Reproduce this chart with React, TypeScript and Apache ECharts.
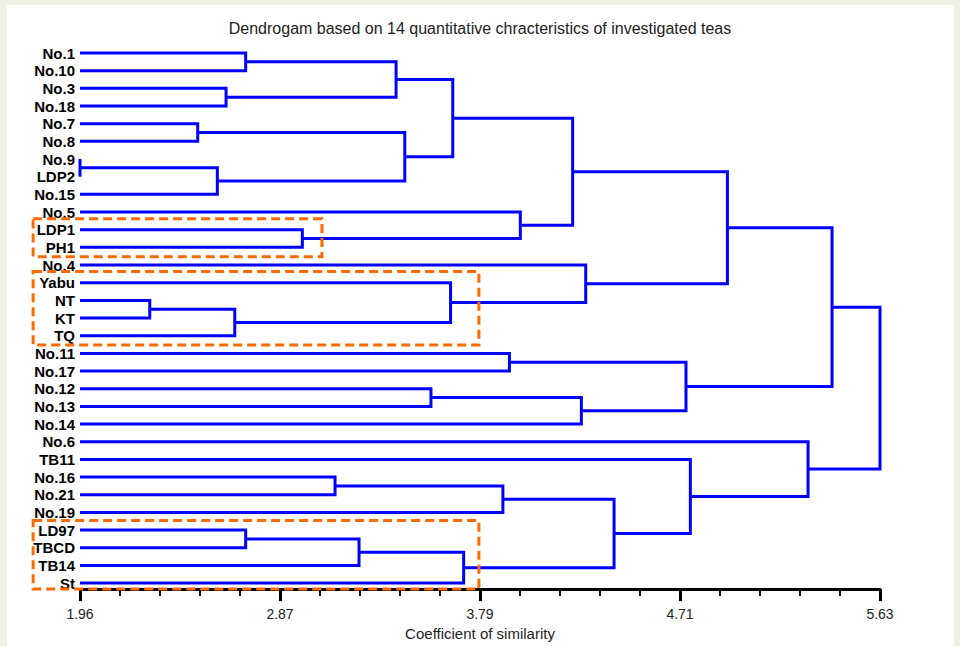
import React, { useEffect, useRef } from "react";
import * as echarts from "echarts";

// Leaves, top to bottom
const leaves = [
  "No.1", "No.10", "No.3", "No.18", "No.7", "No.8", "No.9", "LDP2", "No.15", "No.5",
  "LDP1", "PH1", "No.4", "Yabu", "NT", "KT", "TQ", "No.11", "No.17", "No.12",
  "No.13", "No.14", "No.6", "TB11", "No.16", "No.21", "No.19", "LD97", "TBCD", "TB14", "St",
];

// Merges: [childA, childB, height] ; children are leaf names or "m<index>"
const merges: [string, string, number][] = [
  ["No.1", "No.10", 2.72],
  ["No.3", "No.18", 2.63],
  ["m0", "m1", 3.41],
  ["No.7", "No.8", 2.5],
  ["No.9", "LDP2", 1.96],
  ["m4", "No.15", 2.59],
  ["m3", "m5", 3.45],
  ["m2", "m6", 3.67],
  ["LDP1", "PH1", 2.98],
  ["No.5", "m8", 3.98],
  ["m7", "m9", 4.22],
  ["NT", "KT", 2.28],
  ["m11", "TQ", 2.67],
  ["Yabu", "m12", 3.66],
  ["No.4", "m13", 4.28],
  ["m10", "m14", 4.93],
  ["No.11", "No.17", 3.93],
  ["No.12", "No.13", 3.57],
  ["m17", "No.14", 4.26],
  ["m16", "m18", 4.74],
  ["m15", "m19", 5.41],
  ["No.16", "No.21", 3.13],
  ["m21", "No.19", 3.9],
  ["LD97", "TBCD", 2.72],
  ["m23", "TB14", 3.24],
  ["m24", "St", 3.72],
  ["m22", "m25", 4.41],
  ["TB11", "m26", 4.76],
  ["No.6", "m27", 5.3],
  ["m20", "m28", 5.63],
];

const axisMin = 1.96;
const axisMax = 5.63;
const xTickLabels = ["1.96", "2.87", "3.79", "4.71", "5.63"];

// Highlight boxes (in leaf-index units for top/bottom, similarity for left/right)
const boxTop = [9.38, 12.37, 26.46];
const boxBottom = [11.53, 16.53, 30.34];
const boxLeft = [1.745, 1.745, 1.745];
const boxRight = [3.07, 3.79, 3.79];

const titleText = "Dendrogam based on 14 quantitative chracteristics of investigated teas";
const xName = "Coefficient of similarity";

function buildLinks() {
  const pos: Record<string, { y: number; h: number }> = {};
  leaves.forEach((n, i) => (pos[n] = { y: i, h: axisMin }));
  const out: number[][] = [];
  merges.forEach(([a, b, h], i) => {
    const pa = pos[a];
    const pb = pos[b];
    out.push([h - axisMin, pa.y, pb.y, pa.h - axisMin, pb.h - axisMin]);
    pos["m" + i] = { y: (pa.y + pb.y) / 2, h };
  });
  return out;
}

export default function App() {
  const ref = useRef<HTMLDivElement>(null);
  useEffect(() => {
    document.body.style.margin = "0";
    const chart = echarts.init(ref.current!, undefined, { renderer: "svg" });
    const interval = (axisMax - axisMin) / 4;
    const font = "'Liberation Sans', Arial, sans-serif";
    const boxes = boxTop.map((t, i) => [boxLeft[i] - axisMin, t, boxRight[i] - axisMin, boxBottom[i]]);
    chart.setOption({
      animation: false,
      backgroundColor: "#eef1e3",
      graphic: [
        {
          type: "rect",
          z: -100,
          shape: { x: 7, y: 5, width: 947, height: 641 },
          style: { fill: "#ffffff" },
          silent: true,
        },
      ],
      title: {
        text: titleText,
        left: "center",
        top: 15,
        textStyle: { fontFamily: font, fontWeight: "normal", fontSize: 16, color: "#222" },
      },
      grid: { left: 80, right: 80, top: 53, height: 534 },
      xAxis: {
        type: "value",
        position: "bottom",
        min: 0,
        max: axisMax - axisMin,
        interval,
        offset: 6,
        name: xName,
        nameLocation: "middle",
        nameGap: 34,
        nameTextStyle: { fontFamily: font, fontSize: 15, color: "#222" },
        axisLine: { show: true, onZero: false, lineStyle: { color: "#000", width: 3 } },
        axisTick: { show: true, length: 12, lineStyle: { color: "#000", width: 3 } },
        minorTick: { show: true, splitNumber: 5, length: 7, lineStyle: { color: "#000", width: 2 } },
        splitLine: { show: false },
        minorSplitLine: { show: false },
        axisLabel: {
          margin: 18,
          fontFamily: font,
          fontSize: 14,
          color: "#222",
          formatter: (v: number) => xTickLabels[Math.round(v / interval)] ?? "",
        },
      },
      yAxis: {
        type: "value",
        min: 0,
        max: leaves.length - 1,
        interval: 1,
        inverse: true,
        axisLine: { show: false },
        axisTick: { show: false },
        splitLine: { show: false },
        axisLabel: {
          margin: 5,
          fontFamily: font,
          fontWeight: "bold",
          fontSize: 15,
          color: "#000",
          formatter: (v: number) => leaves[Math.round(v)] ?? "",
        },
      },
      series: [
        {
          type: "custom",
          clip: false,
          data: buildLinks(),
          renderItem: (params: any, api: any) => {
            const x = api.value(0);
            const ya = api.value(1);
            const yb = api.value(2);
            const xa = api.value(3);
            const xb = api.value(4);
            const p1 = api.coord([xa, ya]);
            const p2 = api.coord([x, ya]);
            const p3 = api.coord([x, yb]);
            const p4 = api.coord([xb, yb]);
            return {
              type: "polyline",
              shape: { points: [p1, p2, p3, p4] },
              style: { stroke: "#0000ff", lineWidth: 3, fill: null, lineJoin: "miter" },
            };
          },
          z: 3,
        },
        {
          type: "custom",
          clip: false,
          data: boxes,
          renderItem: (params: any, api: any) => {
            const a = api.coord([api.value(0), api.value(1)]);
            const b = api.coord([api.value(2), api.value(3)]);
            return {
              type: "rect",
              shape: { x: a[0], y: a[1], width: b[0] - a[0], height: b[1] - a[1] },
              style: { stroke: "#ff6a00", lineWidth: 3, fill: null, lineDash: [9, 5] },
            };
          },
          z: 4,
        },
      ],
    });
    return () => chart.dispose();
  }, []);
  return <div ref={ref} style={{ width: 960, height: 646 }} />;
}
